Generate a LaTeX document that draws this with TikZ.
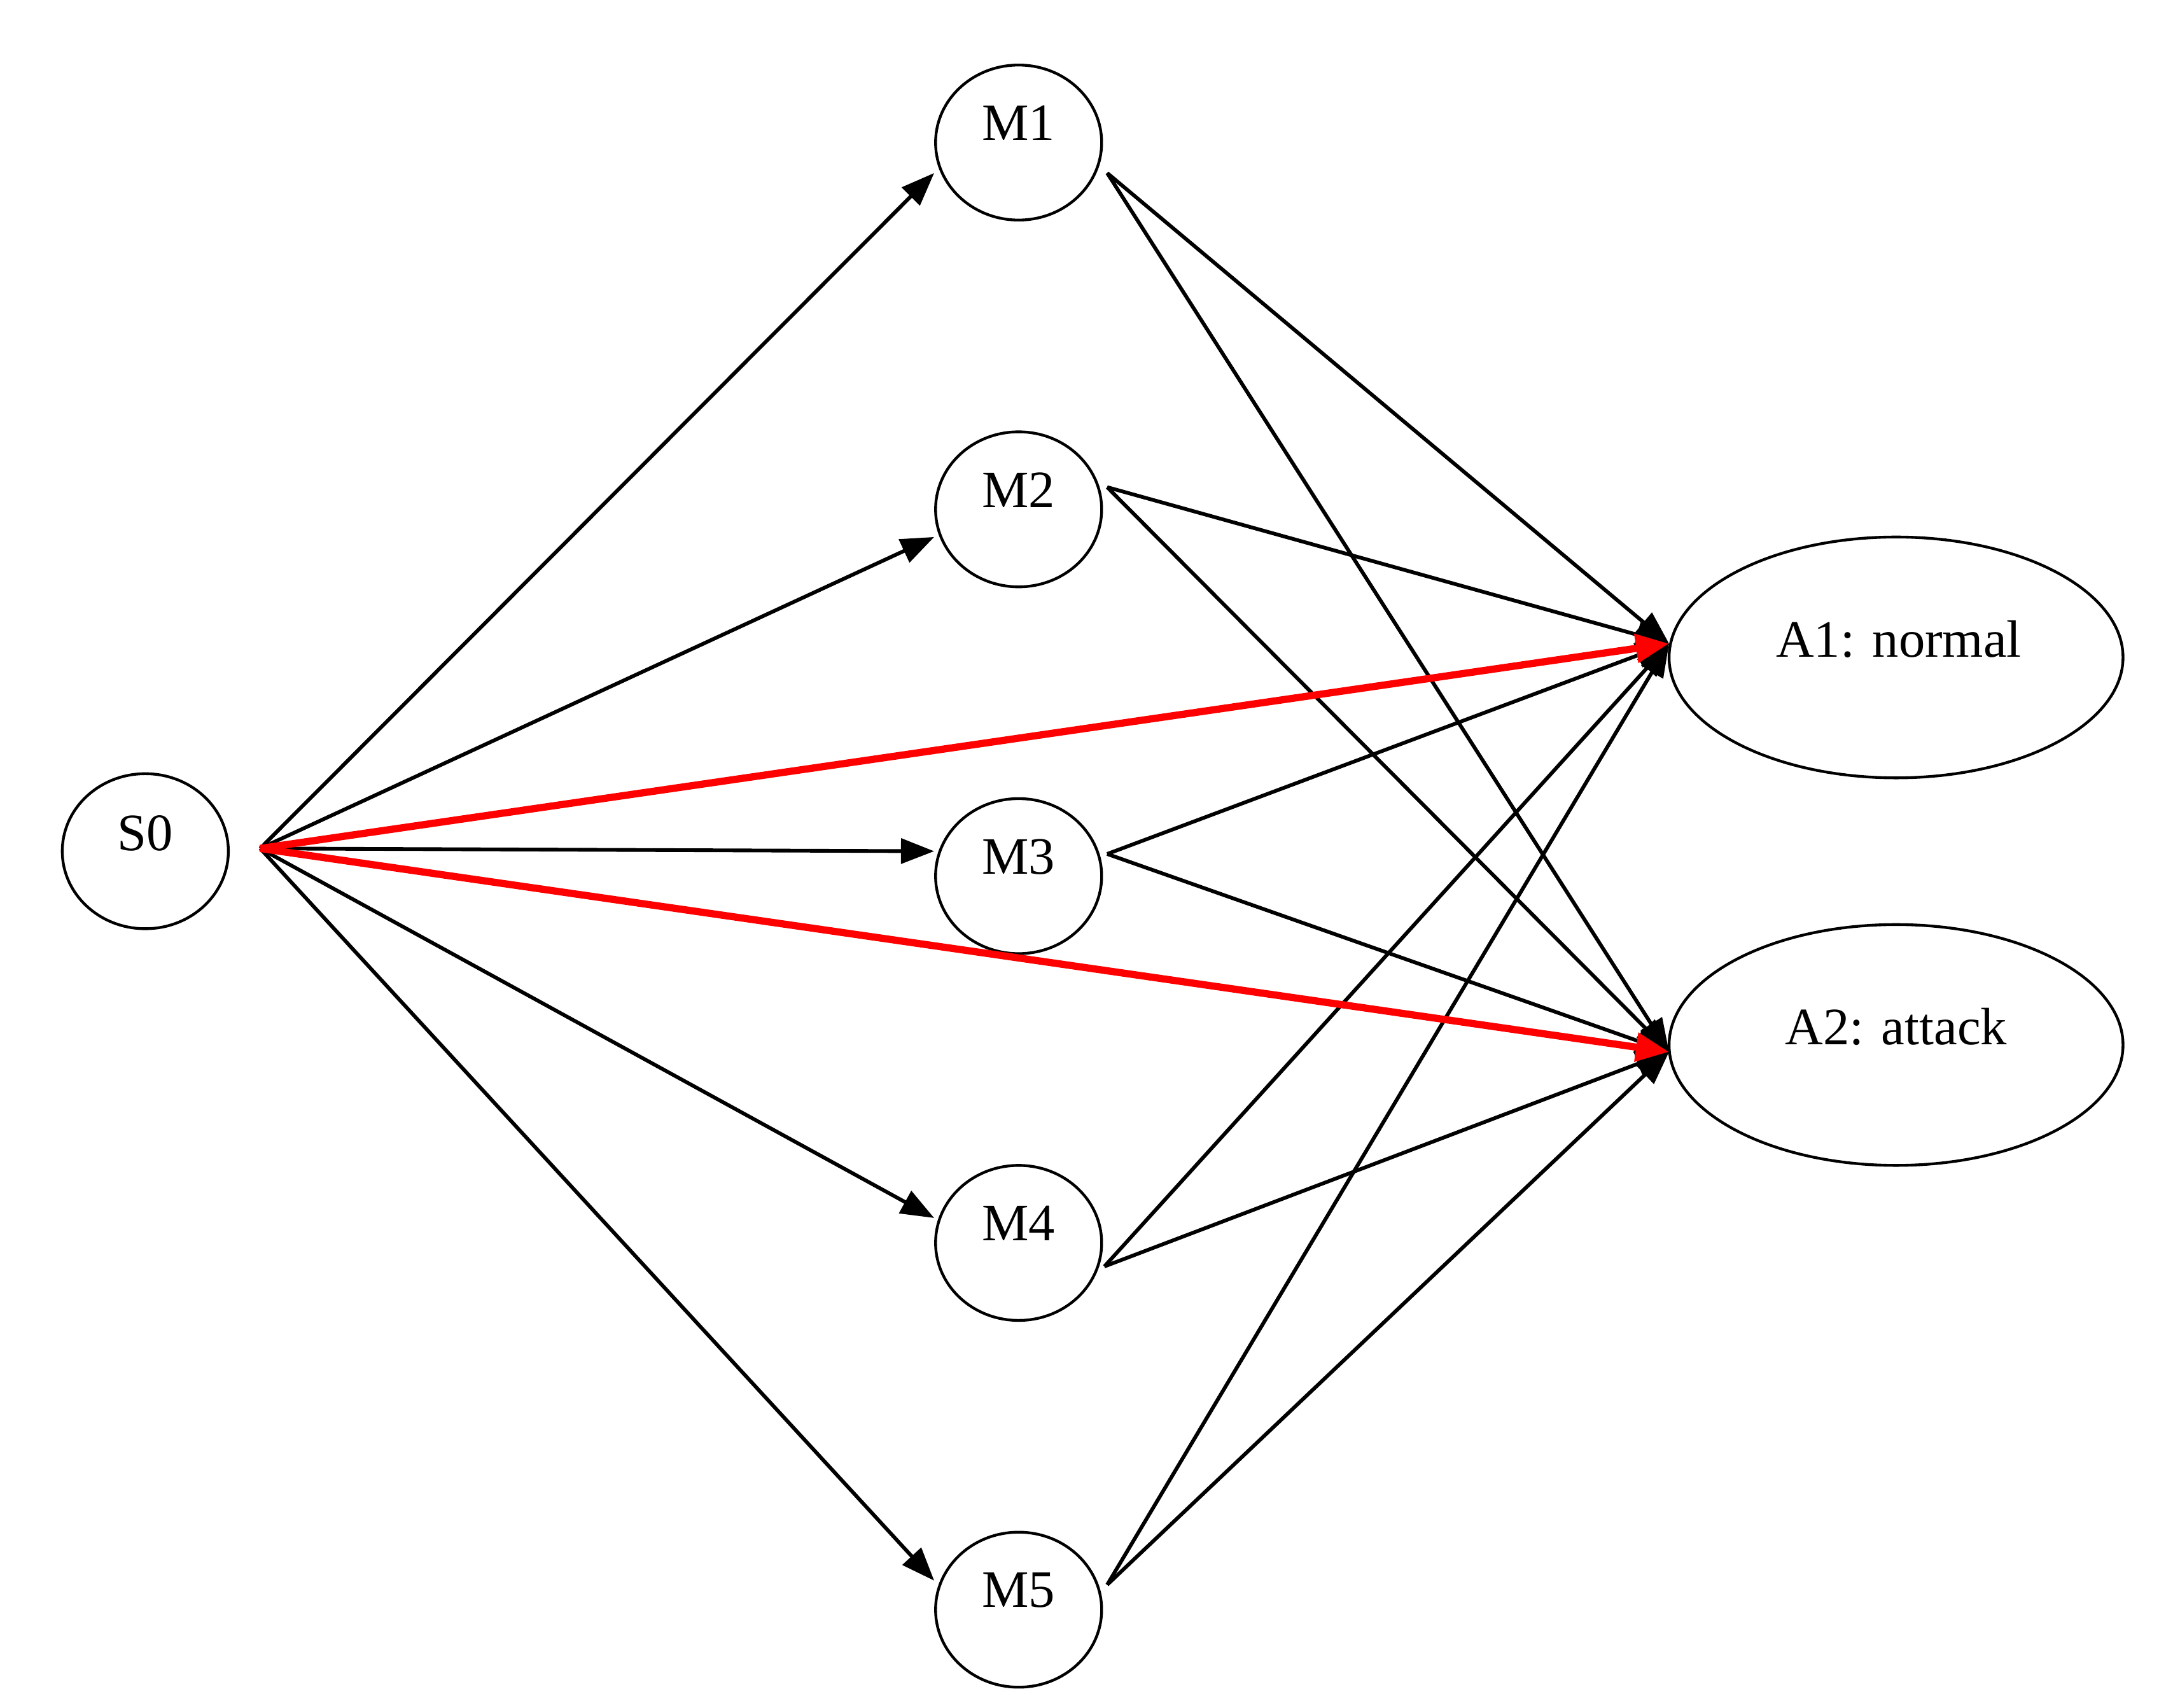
\documentclass[tikz,border=0pt]{standalone}
\usepackage{fontspec}
\setmainfont{Liberation Serif}
\usetikzlibrary{shapes.geometric,arrows.meta}
\begin{document}
\begin{tikzpicture}[x=0.5pt,y=-0.5pt,
  st/.style={ellipse,draw,line width=1pt,inner sep=0pt,font=\fontsize{19}{22}\selectfont},
  sm/.style={st,minimum width=60pt,minimum height=56pt},
  sa/.style={st,minimum width=164pt,minimum height=87pt},
  ed/.style={line width=1.35pt,-{Triangle[length=12pt,width=9pt]}},
  red/.style={ed,draw={rgb,255:red,255;green,0;blue,0},line width=2.6pt,-{Triangle[length=12pt,width=10pt,fill={rgb,255:red,255;green,0;blue,0}]}}]
\useasboundingbox (0,0) rectangle (1560,1234);
\node[sm] (S0) at (105,615) {};
\node at (105,602) {\fontsize{19}{22}\selectfont S0};
\foreach \i/\y in {1/103,2/368,3/633,4/898,5/1163}{
  \node[sm] (M\i) at (736,\y) {};
  \node (tM\i) at (736,\y-14) {\fontsize{19}{22}\selectfont M\i};
}
\node[sa] (A1) at (1370,475) {};
\node (tA1) at (1372,462) {\fontsize{19}{22}\selectfont A1: normal};
\node[sa] (A2) at (1370,755) {};
\node (tA2) at (1370,742) {\fontsize{19}{22}\selectfont A2: attack};
\coordinate (s) at (188,613);
\coordinate (i1) at (675,125); \coordinate (i2) at (675,388);
\coordinate (i3) at (675,615); \coordinate (i4) at (675,880);
\coordinate (i5) at (675,1142);
\coordinate (o1) at (800,125); \coordinate (o2) at (800,352);
\coordinate (o3) at (800,617); \coordinate (o4) at (798,915);
\coordinate (o5) at (800,1145);
\coordinate (a1) at (1206,465); \coordinate (a2) at (1206,760);
\foreach \i in {1,...,5}{
  \draw[ed] (s) -- (i\i);
  \draw[ed] (o\i) -- (a1);
  \draw[ed] (o\i) -- (a2);
}
\draw[red] (s) -- (a1);
\draw[red] (s) -- (a2);
\end{tikzpicture}
\end{document}
